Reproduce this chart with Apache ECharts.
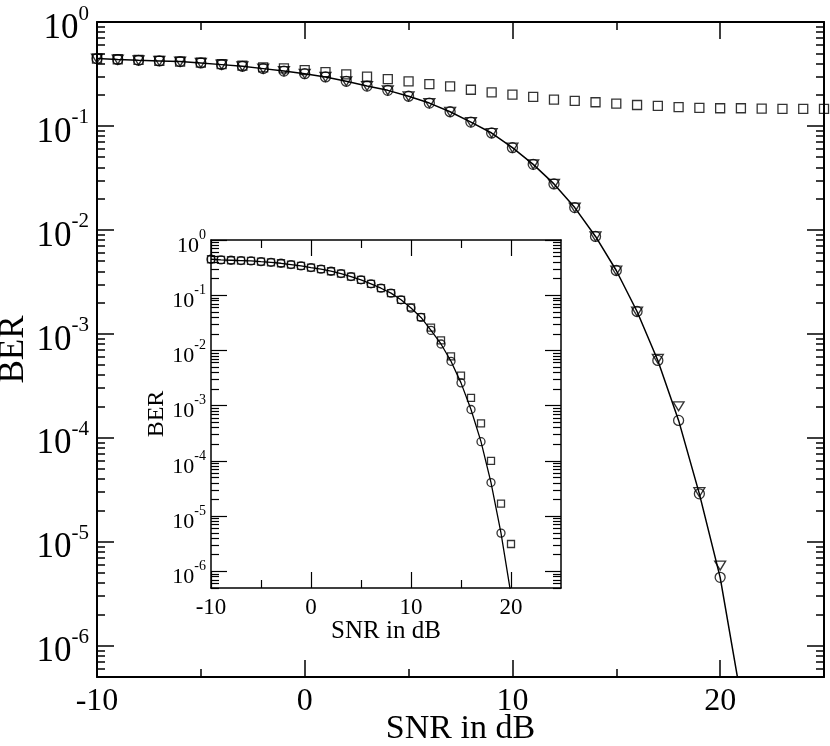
<!DOCTYPE html>
<html>
<head>
<meta charset="utf-8">
<script src="https://cdn.jsdelivr.net/npm/echarts@6/dist/echarts.min.js"></script>
<style>
html, body { margin: 0; padding: 0; background: #fff; }
#chart { width: 830px; height: 746px; }
</style>
</head>
<body>
<div id="chart"></div>
<script>
// main plot data (BER vs SNR)
var snrMain = [-10, -9, -8, -7, -6, -5, -4, -3, -2, -1, 0, 1, 2, 3, 4, 5, 6, 7, 8, 9, 10,
               11, 12, 13, 14, 15, 16, 17, 18, 19, 20, 21, 22, 23, 24, 25];
var squaresMain = [0.444, 0.438, 0.432, 0.422, 0.416, 0.406, 0.394, 0.380, 0.366, 0.358,
                   0.345, 0.330, 0.314, 0.298, 0.282, 0.269, 0.253, 0.240, 0.223, 0.210, 0.200,
                   0.190, 0.179, 0.174, 0.169, 0.164, 0.159, 0.156, 0.152, 0.149, 0.148,
                   0.148, 0.147, 0.146, 0.146, 0.146];
var circlesMain = [0.445, 0.435, 0.428, 0.422, 0.416, 0.404, 0.389, 0.375, 0.356, 0.337,
                   0.318, 0.296, 0.269, 0.242, 0.220, 0.193, 0.166, 0.137, 0.109, 0.0855, 0.0618,
                   0.0427, 0.0277, 0.0164, 0.00865, 0.00407, 0.00164, 5.55e-4, 1.47e-4, 2.89e-5, 4.55e-6];
var trianglesMain = [0.445, 0.435, 0.428, 0.422, 0.416, 0.404, 0.389, 0.375, 0.356, 0.337,
                     0.318, 0.296, 0.269, 0.242, 0.220, 0.193, 0.166, 0.137, 0.109, 0.0855, 0.0618,
                     0.0427, 0.0277, 0.0164, 0.00865, 0.00407, 0.00164, 5.75e-4, 2.01e-4, 3.0e-5, 5.9e-6];
var theoryMain = [0.445, 0.435, 0.428, 0.422, 0.416, 0.404, 0.389, 0.375, 0.356, 0.337,
                  0.318, 0.296, 0.269, 0.242, 0.220, 0.193, 0.166, 0.137, 0.109, 0.0855, 0.0618,
                  0.0427, 0.0277, 0.0164, 0.00865, 0.00407, 0.00164, 5.55e-4, 1.47e-4, 2.89e-5, 4.55e-6,
                  3.2e-7];

// inset data
var snrInset = [-10, -9, -8, -7, -6, -5, -4, -3, -2, -1, 0, 1, 2, 3, 4, 5, 6, 7, 8, 9, 10,
                11, 12, 13, 14, 15, 16, 17, 18, 19, 20];
var squaresInset = [0.448, 0.436, 0.430, 0.424, 0.418, 0.406, 0.395, 0.379, 0.359, 0.340,
                    0.317, 0.296, 0.272, 0.247, 0.218, 0.190, 0.161, 0.134, 0.109, 0.0826, 0.0601,
                    0.0402, 0.0258, 0.0152, 0.00783, 0.00351, 0.00139, 4.78e-4, 9.98e-5, 1.69e-5, 3.13e-6];
var circlesInset = [0.448, 0.436, 0.430, 0.424, 0.418, 0.406, 0.395, 0.379, 0.359, 0.340,
                    0.317, 0.296, 0.272, 0.247, 0.218, 0.190, 0.161, 0.134, 0.109, 0.0826, 0.0585,
                    0.0396, 0.0231, 0.0131, 0.00637, 0.00259, 8.53e-4, 2.23e-4, 4.06e-5, 4.93e-6];
var theoryInset = [0.448, 0.436, 0.430, 0.424, 0.418, 0.406, 0.395, 0.379, 0.359, 0.340,
                   0.317, 0.296, 0.272, 0.247, 0.218, 0.190, 0.161, 0.134, 0.109, 0.0826, 0.0585,
                   0.0396, 0.0231, 0.0131, 0.00637, 0.00259, 8.53e-4, 2.23e-4, 4.06e-5, 4.93e-6, 3.8e-7];

// ticks
var xMajor = [-10, 0, 10, 20];
var xMinor = [-5, 5, 15];
var yMajor = [1e-6, 1e-5, 1e-4, 1e-3, 1e-2, 1e-1, 1];
var yMinor = [];
for (var e = -7; e < 0; e++) {
    for (var k = 2; k <= 9; k++) yMinor.push(k * Math.pow(10, e));
}

var serif = 'Liberation Serif';

function pairs(xs, ys) {
    return ys.map(function (y, i) { return [xs[i], y]; });
}

function expLabel(v) {
    return '{b|10}{s|' + Math.round(Math.log10(v)) + '}';
}

// 4 x axes (bottom/top, major/minor) and 4 y axes (left/right, major/minor) for one grid
function makeAxes(g, s) {
    var xs = [], ys = [];
    var line = {show: true, onZero: false, lineStyle: {color: '#000', width: s.line}};
    var noLine = {show: false, onZero: false};
    function tick(vals, len) {
        return {show: true, inside: true, length: len, customValues: vals,
                lineStyle: {color: '#000', width: s.tick}};
    }
    ['bottom', 'top'].forEach(function (pos, p) {
        [xMajor, xMinor].forEach(function (vals, m) {
            var a = {
                type: 'value', gridIndex: g, position: pos, min: -10, max: 25,
                axisLine: m === 0 ? line : noLine,
                axisTick: tick(vals, m === 0 ? s.major : s.minor),
                axisLabel: {show: false},
                splitLine: {show: false}
            };
            if (p === 0 && m === 0) {
                a.axisLabel = {show: true, customValues: xMajor, margin: s.xMargin,
                               fontSize: s.xFont, fontFamily: serif, color: '#000'};
                a.name = 'SNR in dB';
                a.nameLocation = 'middle';
                a.nameGap = s.xNameGap;
                a.nameMoveOverlap = false;
                a.nameTextStyle = {fontSize: s.xNameFont, fontFamily: serif, color: '#000',
                                   verticalAlign: 'middle'};
            }
            xs.push(a);
        });
    });
    ['left', 'right'].forEach(function (pos, p) {
        [yMajor, yMinor].forEach(function (vals, m) {
            var a = {
                type: 'log', logBase: 10, gridIndex: g, position: pos, min: 5e-7, max: 1,
                axisLine: m === 0 ? line : noLine,
                axisTick: tick(vals, m === 0 ? s.major : s.minor),
                axisLabel: {show: false},
                splitLine: {show: false}
            };
            if (p === 0 && m === 0) {
                a.axisLabel = {
                    show: true, customValues: yMajor, margin: s.yMargin,
                    formatter: expLabel, padding: [s.yPad, 0, 0, 0],
                    rich: {
                        b: {fontSize: s.yFont, fontFamily: serif, color: '#000', lineHeight: s.yLH},
                        s: {fontSize: s.supFont, fontFamily: serif, color: '#000',
                            lineHeight: s.supLH, verticalAlign: 'top'}
                    }
                };
                a.name = 'BER';
                a.nameLocation = 'middle';
                a.nameGap = s.yNameGap;
                a.nameMoveOverlap = false;
                a.nameTextStyle = {fontSize: s.yNameFont, fontFamily: serif, color: '#000',
                                   verticalAlign: 'middle'};
            }
            ys.push(a);
        });
    });
    return {x: xs, y: ys};
}

var mainAxes = makeAxes(0, {line: 2, tick: 1.5, major: 17, minor: 8,
    xFont: 32, xMargin: 9, xNameGap: 52, xNameFont: 34,
    yFont: 35, supFont: 21, yLH: 50, supLH: 22, yPad: 13, yMargin: 8,
    yNameGap: 83, yNameFont: 35});
var insetAxes = makeAxes(1, {line: 1.5, tick: 1.2, major: 16, minor: 8,
    xFont: 23, xMargin: 8, xNameGap: 43, xNameFont: 25,
    yFont: 22, supFont: 14, yLH: 36, supLH: 14, yPad: 12, yMargin: 5,
    yNameGap: 54, yNameFont: 24});

function hollow(symbol, size, xi, yi, data, rot) {
    return {
        type: 'scatter', xAxisIndex: xi, yAxisIndex: yi, data: data,
        symbol: symbol, symbolSize: size, symbolRotate: rot || 0, clip: false,
        itemStyle: {color: 'rgba(0,0,0,0)', borderColor: '#000', borderWidth: 1.3}
    };
}

var chart = echarts.init(document.getElementById('chart'));
chart.setOption({
    animation: false,
    backgroundColor: '#fff',
    grid: [
        {left: 97, top: 22, width: 727, height: 655, outerBoundsMode: 'none'},
        {left: 211, top: 240, width: 350, height: 348, outerBoundsMode: 'none',
         show: true, backgroundColor: '#fff', borderWidth: 0}
    ],
    xAxis: mainAxes.x.concat(insetAxes.x),
    yAxis: mainAxes.y.concat(insetAxes.y),
    series: [
        {type: 'line', xAxisIndex: 0, yAxisIndex: 0, data: pairs(snrMain, theoryMain),
         showSymbol: false, lineStyle: {color: '#000', width: 1.5}},
        hollow('rect', 9, 0, 0, pairs(snrMain, squaresMain)),
        hollow('circle', 10, 0, 0, pairs(snrMain, circlesMain)),
        hollow('triangle', [11, 9], 0, 0, pairs(snrMain, trianglesMain), 180),
        {type: 'line', xAxisIndex: 4, yAxisIndex: 4, data: pairs(snrInset, theoryInset),
         showSymbol: false, lineStyle: {color: '#000', width: 1.3}},
        hollow('rect', 7, 4, 4, pairs(snrInset, squaresInset)),
        hollow('circle', 8, 4, 4, pairs(snrInset, circlesInset))
    ]
});
</script>
</body>
</html>
